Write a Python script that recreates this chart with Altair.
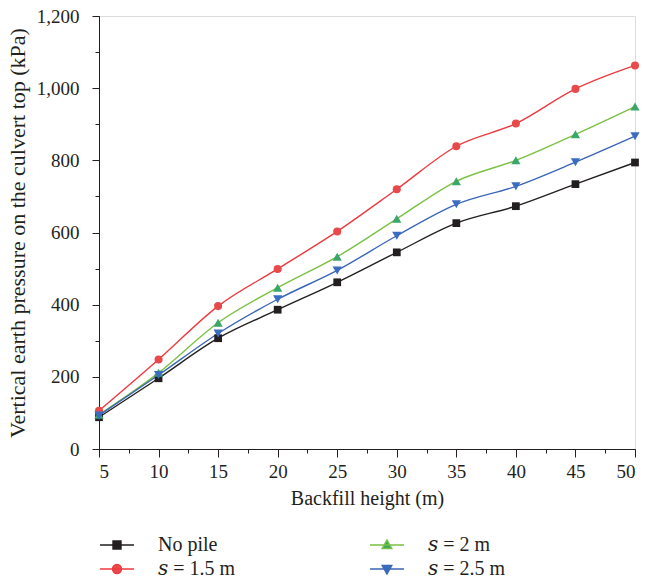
import altair as alt
import pandas as pd

heights = [5, 10, 15, 20, 25, 30, 35, 40, 45, 50]
no_pile = [88, 196, 307, 386, 462, 545, 626, 673, 734, 794]
s_15 = [106, 248, 396, 499, 603, 720, 839, 902, 998, 1063]
s_20 = [95, 211, 350, 447, 533, 638, 742, 800, 872, 949]
s_25 = [93, 205, 320, 415, 495, 591, 678, 728, 795, 867]

series_names = ["No pile", "𝑠 = 1.5 m", "𝑠 = 2 m", "𝑠 = 2.5 m"]
series_values = [no_pile, s_15, s_20, s_25]
line_colors = ["#231f20", "#ee3a3f", "#7ac143", "#3a66b7"]
marker_colors = ["#231f20", "#e84a4c", "#3aa66b", "#3a6cc0"]
marker_shapes = ["square", "circle", "triangle-up", "triangle-down"]
marker_sizes = [60, 65, 85, 85]
legend_paths = [
    "M-1.7,0H1.7M-0.4,-0.4H0.4V0.4H-0.4Z",
    "M-1.7,0H1.7M0.45,0A0.45,0.45,0,1,1,-0.45,0A0.45,0.45,0,1,1,0.45,0Z",
    "M-1.7,0H1.7M0,-0.5L0.48,0.35L-0.48,0.35Z",
    "M-1.7,0H1.7M0,0.5L0.48,-0.35L-0.48,-0.35Z",
]

y_major = [0, 200, 400, 600, 800, 1000, 1200]
y_minor = list(range(0, 1201, 100))
x_major = [5, 10, 15, 20, 25, 30, 35, 40, 45, 50]
x_minor = [5 + 2.5 * i for i in range(19)]

rows = []
for name, vals in zip(series_names, series_values):
    for h, v in zip(heights, vals):
        rows.append({"height": h, "pressure": v, "series": name})
df = pd.DataFrame(rows)

FONT = "Liberation Serif"
LEGEND_FONT = "Liberation Serif, DejaVu Serif, serif"
INK = "#231f20"

xscale = alt.Scale(domain=[5, 50], nice=False)
yscale = alt.Scale(domain=[0, 1200], nice=False)

x_minor_axis = alt.Axis(values=x_minor, tickSize=4, labels=False, domain=False,
                        title=None, grid=False, orient="bottom", tickColor=INK)
y_minor_axis = alt.Axis(values=y_minor, tickSize=4, labels=False, domain=False,
                        title=None, grid=False, orient="left", tickColor=INK)
x_major_axis = alt.Axis(values=x_major, tickSize=8, grid=False, orient="bottom",
                        title="Backfill height (m)", labelFont=FONT, titleFont=FONT,
                        labelFontSize=19, titleFontSize=20, titleFontWeight="normal",
                        labelColor=INK, titleColor=INK, domainColor=INK,
                        tickColor=INK, labelPadding=5, titlePadding=7)
y_major_axis = alt.Axis(values=y_major, tickSize=7, grid=False, orient="left", format=",d",
                        title="Vertical earth pressure on the culvert top (kPa)",
                        labelFont=FONT, titleFont=FONT, labelFontSize=19, titleFontSize=22,
                        titleFontWeight="normal", labelColor=INK, titleColor=INK,
                        domainColor=INK, tickColor=INK, labelPadding=13, titlePadding=7)

color_scale = alt.Scale(domain=series_names, range=line_colors)
fill_scale = alt.Scale(domain=series_names, range=marker_colors)
shape_scale = alt.Scale(domain=series_names, range=legend_paths)

leg = alt.Legend(
    title=None, orient="none", legendX=0, legendY=518, direction="vertical",
    columns=2, columnPadding=131, rowPadding=3, symbolSize=400, symbolOffset=7,
    symbolStrokeWidth=1.4, symbolOpacity=1,
    labelFont=LEGEND_FONT, labelFontSize=20, labelColor=INK, labelOffset=30)

lines = alt.Chart(df).mark_line(interpolate="monotone", strokeWidth=1.4).encode(
    x=alt.X("height:Q", scale=xscale, axis=x_minor_axis),
    y=alt.Y("pressure:Q", scale=yscale, axis=y_minor_axis),
    color=alt.Color("series:N", scale=color_scale, legend=leg),
    detail="series:N",
)

point_layers = []
for i, (name, shp, col, sz) in enumerate(zip(series_names, marker_shapes, marker_colors, marker_sizes)):
    enc = dict(
        x=alt.X("height:Q", scale=xscale, axis=x_major_axis if i == 0 else None),
        y=alt.Y("pressure:Q", scale=yscale, axis=y_major_axis if i == 0 else None),
    )
    point_layers.append(
        alt.Chart(df).transform_filter(alt.datum.series == name)
        .mark_point(filled=True, size=sz, opacity=1, shape=shp, color=col)
        .encode(**enc)
    )

legend_layer = alt.Chart(df).mark_point(filled=False, strokeWidth=1.4, opacity=0).encode(
    x=alt.X("height:Q", scale=xscale, axis=None),
    y=alt.Y("pressure:Q", scale=yscale, axis=None),
    color=alt.Color("series:N", scale=color_scale, legend=leg),
    fill=alt.Fill("series:N", scale=fill_scale, legend=leg),
    shape=alt.Shape("series:N", scale=shape_scale, legend=leg),
)

chart = alt.layer(lines, *point_layers, legend_layer).resolve_axis(
    x="independent", y="independent"
).properties(
    width=536, height=433,
    autosize=alt.AutoSizeParams(type="none"),
    padding={"left": 99, "top": 16, "right": 10, "bottom": 129},
).configure_view(stroke="#555555", strokeWidth=1.2).configure(background="white")

chart.save("out.html", embed_options={"renderer": "svg", "actions": False})
